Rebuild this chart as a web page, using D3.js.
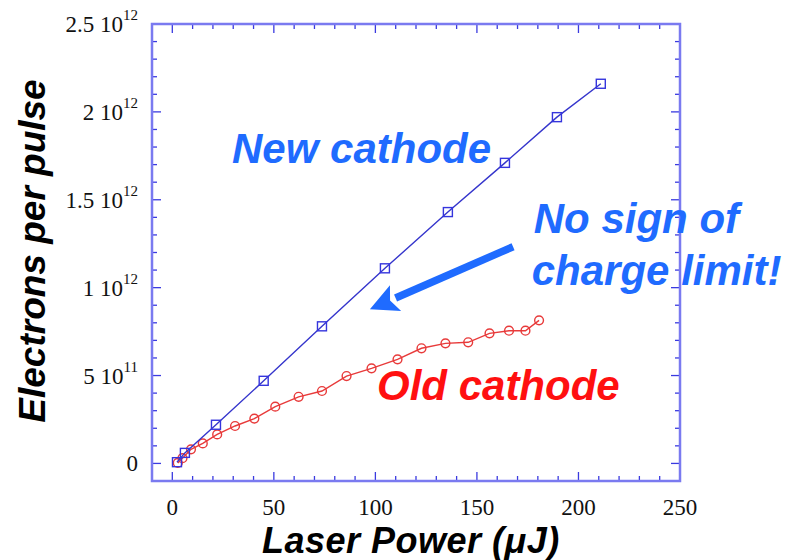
<!DOCTYPE html>
<html>
<head>
<meta charset="utf-8">
<script src="https://cdn.jsdelivr.net/npm/d3@7"></script>
<style>
  body { margin: 0; background: #fff; }
  svg { display: block; }
</style>
</head>
<body>
<div id="chart"></div>
<script>
// data (x in µJ, y in electrons per pulse)
const newX = [2.3, 6.2, 21.5, 45, 73.7, 104.7, 135.7, 163.8, 189.4, 211];
const newY = [0.007e12, 0.06e12, 0.22e12, 0.47e12, 0.78e12, 1.11e12, 1.43e12, 1.71e12, 1.97e12, 2.16e12];
const oldX = [2.7, 5, 9.2, 15, 22.1, 30.9, 40.4, 50.7, 62.2, 73.7, 85.8, 98.1, 110.9, 122.7, 134.5, 145.7, 156.2, 165.8, 173.9, 180.6];
const oldY = [0.003e12, 0.03e12, 0.08e12, 0.114e12, 0.165e12, 0.213e12, 0.255e12, 0.323e12, 0.379e12, 0.412e12, 0.497e12, 0.541e12, 0.592e12, 0.655e12, 0.683e12, 0.689e12, 0.74e12, 0.755e12, 0.755e12, 0.814e12];
const xTicks = [0, 50, 100, 150, 200, 250];
const yTicks = [0, 5e11, 1e12, 1.5e12, 2e12, 2.5e12];
const yTickMant = ['0', '5', '1', '1.5', '2', '2.5'];
const yTickExp = ['', '11', '12', '12', '12', '12'];

const W = 792, H = 560;
const margin = { top: 24, right: 112, bottom: 79, left: 152 };
const iw = W - margin.left - margin.right;
const ih = H - margin.top - margin.bottom;

const svg = d3.select('#chart').append('svg')
  .attr('width', W).attr('height', H);

const x = d3.scaleLinear().domain([-10, 250]).range([margin.left, margin.left + iw]);
const y = d3.scaleLinear().domain([-1e11, 2.5e12]).range([margin.top + ih, margin.top]);

const frameCol = '#7a7af0';
const tickCol = '#3a3ae0';

// minor + major ticks on all four sides, pointing inward
const xMinor = d3.range(0, 251, 10);
const yMinor = d3.range(0, 25.1, 1).map(d => d * 1e11);
const isMajorX = v => Math.abs(v % 50) < 1e-9;
const isMajorY = v => Math.abs((v / 1e11) % 5) < 1e-6;

const ticks = svg.append('g').attr('stroke', tickCol).attr('stroke-width', 1.3);
xMinor.forEach(v => {
  const len = isMajorX(v) ? 9 : 5;
  ticks.append('line').attr('x1', x(v)).attr('x2', x(v))
    .attr('y1', y.range()[0]).attr('y2', y.range()[0] - len);
  ticks.append('line').attr('x1', x(v)).attr('x2', x(v))
    .attr('y1', y.range()[1]).attr('y2', y.range()[1] + len);
});
yMinor.forEach(v => {
  const len = isMajorY(v) ? 9 : 5;
  ticks.append('line').attr('y1', y(v)).attr('y2', y(v))
    .attr('x1', x.range()[0]).attr('x2', x.range()[0] + len);
  ticks.append('line').attr('y1', y(v)).attr('y2', y(v))
    .attr('x1', x.range()[1]).attr('x2', x.range()[1] - len);
});

// frame
svg.append('rect')
  .attr('x', x.range()[0]).attr('y', y.range()[1])
  .attr('width', iw).attr('height', ih)
  .attr('fill', 'none').attr('stroke', frameCol).attr('stroke-width', 2.5);

// tick labels
const serif = '"Liberation Serif", "Times New Roman", serif';
svg.append('g').selectAll('text').data(xTicks).join('text')
  .attr('x', d => x(d)).attr('y', 515)
  .attr('text-anchor', 'middle')
  .style('font-family', serif).style('font-size', '23px').attr('fill', '#111')
  .text(d => d);

const yl = svg.append('g').selectAll('g').data(yTicks).join('g')
  .attr('transform', d => `translate(138,${y(d) + 8})`);
yl.append('text')
  .attr('text-anchor', 'end')
  .style('font-family', serif).style('font-size', '23px').attr('fill', '#111')
  .each(function (d, i) {
    const t = d3.select(this);
    if (yTickExp[i]) {
      t.append('tspan').text(yTickMant[i] + ' 10');
      t.append('tspan').attr('dy', -12).style('font-size', '15px').text(yTickExp[i]);
    } else {
      t.text(yTickMant[i]);
    }
  });

// series
const line = d3.line().x(d => x(d[0])).y(d => y(d[1]));
const newData = newX.map((v, i) => [v, newY[i]]);
const oldData = oldX.map((v, i) => [v, oldY[i]]);

svg.append('path').datum(oldData).attr('d', line)
  .attr('fill', 'none').attr('stroke', '#e83a3a').attr('stroke-width', 1.4);
svg.append('g').selectAll('circle').data(oldData).join('circle')
  .attr('cx', d => x(d[0])).attr('cy', d => y(d[1])).attr('r', 4.4)
  .attr('fill', 'none').attr('stroke', '#e83a3a').attr('stroke-width', 1.4);

svg.append('path').datum(newData).attr('d', line)
  .attr('fill', 'none').attr('stroke', '#3535cc').attr('stroke-width', 1.4);
svg.append('g').selectAll('rect').data(newData).join('rect')
  .attr('x', d => x(d[0]) - 4.5).attr('y', d => y(d[1]) - 4.5)
  .attr('width', 9).attr('height', 9)
  .attr('fill', 'none').attr('stroke', '#3535dd').attr('stroke-width', 1.4);

// annotations
const sans = '"Liberation Sans", Arial, Helvetica, sans-serif';
const annBlue = '#1f6bff';
function label(txt, xv, yv, col, size) {
  svg.append('text').attr('x', x(xv)).attr('y', y(yv))
    .style('font-family', sans).style('font-weight', 'bold').style('font-style', 'italic')
    .style('font-size', size + 'px').attr('fill', col).text(txt);
}
label('New cathode', 29.4, 1.71e12, annBlue, 42);
label('No sign of', 178, 1.31e12, annBlue, 42);
label('charge limit!', 177, 1.016e12, annBlue, 42);
label('Old cathode', 100.8, 0.36e12, '#ff1010', 42);

// arrow
const a0 = [x(167.8), y(1.233e12)], a1 = [x(97.3), y(0.877e12)];
const ang = Math.atan2(a1[1] - a0[1], a1[0] - a0[0]);
const headLen = 28, headW = 14;
const base = [a1[0] - headLen * Math.cos(ang), a1[1] - headLen * Math.sin(ang)];
svg.append('line').attr('x1', a0[0]).attr('y1', a0[1]).attr('x2', base[0]).attr('y2', base[1])
  .attr('stroke', annBlue).attr('stroke-width', 7.5);
svg.append('path')
  .attr('d', d3.line()([
    a1,
    [base[0] + headW * Math.sin(ang), base[1] - headW * Math.cos(ang)],
    [base[0] + 6 * Math.cos(ang), base[1] + 6 * Math.sin(ang)],
    [base[0] - headW * Math.sin(ang), base[1] + headW * Math.cos(ang)]
  ]) + 'Z')
  .attr('fill', annBlue);

// axis titles
svg.append('text')
  .attr('x', x(117.5)).attr('y', 553)
  .attr('text-anchor', 'middle')
  .style('font-family', sans).style('font-weight', 'bold').style('font-style', 'italic')
  .style('font-size', '36px').style('letter-spacing', '0.5px').attr('fill', '#000')
  .text('Laser Power (μJ)');
svg.append('text')
  .attr('transform', 'translate(45,251) rotate(-90)')
  .attr('text-anchor', 'middle')
  .style('font-family', sans).style('font-weight', 'bold').style('font-style', 'italic')
  .style('font-size', '37px').attr('fill', '#000')
  .text('Electrons per pulse');
</script>
</body>
</html>
